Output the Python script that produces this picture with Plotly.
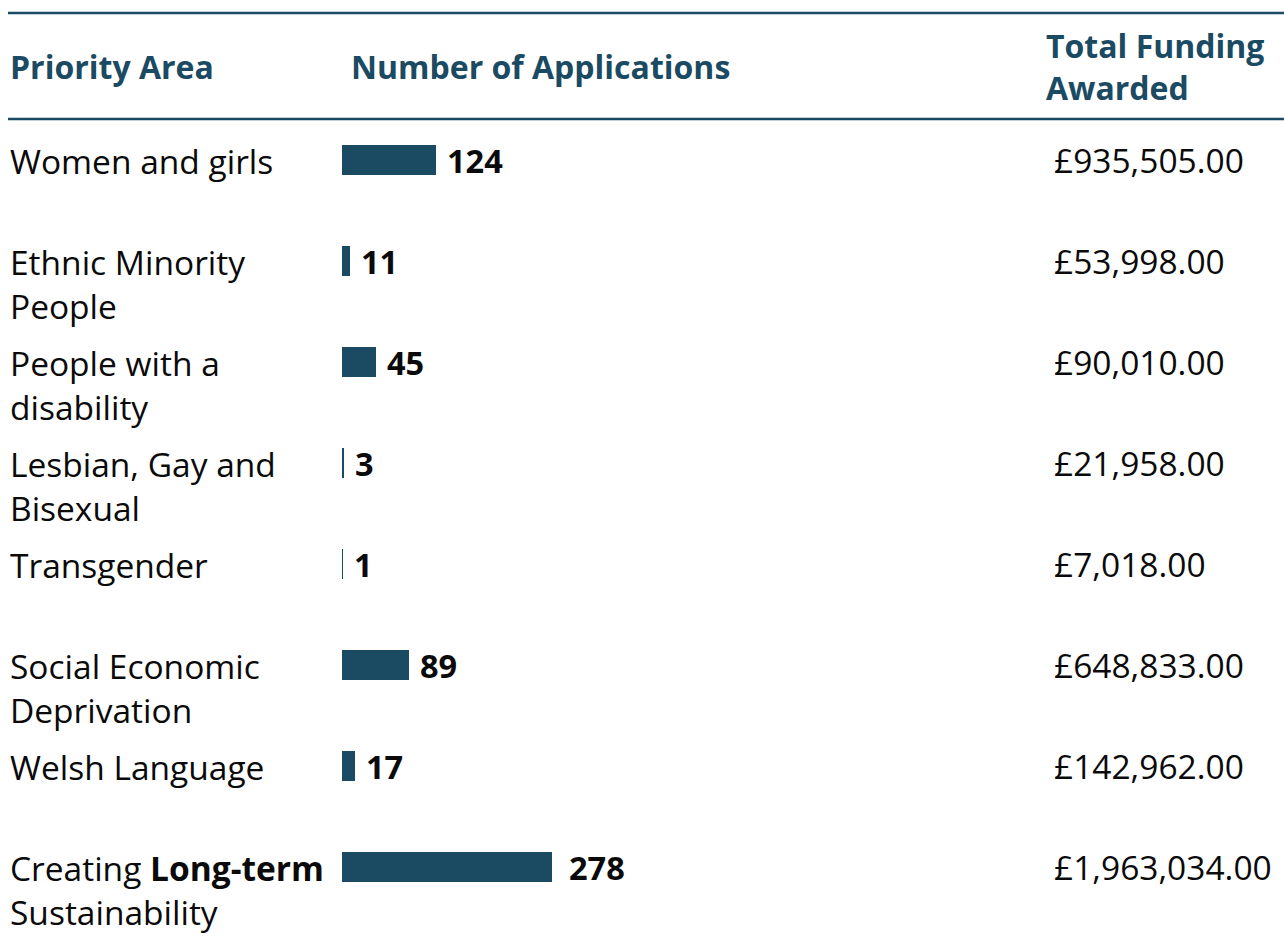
import plotly.graph_objects as go

categories = [
    "Women and girls",
    "Ethnic Minority<br>People",
    "People with a<br>disability",
    "Lesbian, Gay and<br>Bisexual",
    "Transgender",
    "Social Economic<br>Deprivation",
    "Welsh Language",
    "Creating <b>Long-term</b><br>Sustainability",
]
applications = [124, 11, 45, 3, 1, 89, 17, 278]
funding = [935505.00, 53998.00, 90010.00, 21958.00, 7018.00, 648833.00, 142962.00, 1963034.00]
headers = ["Priority Area", "Number of Applications", "Total Funding<br>Awarded"]

NAVY = "#1b4a63"
FONT = "Open Sans"
W, H = 1284, 950

# pixel mapping helpers (layout only)
bar_x0 = 342
px_per_unit = 0.757
row0_px, row_step = 160, 101
plot_top, plot_bot = 119, 950

fig = go.Figure()
fig.add_trace(go.Bar(
    x=applications, y=list(range(len(categories))), orientation="h",
    marker=dict(color=NAVY, line=dict(width=0)), width=0.3,
    hoverinfo="skip", showlegend=False,
))

ann = []
for i, (c, a, f) in enumerate(zip(categories, applications, funding)):
    ann.append(dict(x=8 / W, xref="paper", y=i, yref="y", text=c, showarrow=False,
                    xanchor="left", yanchor="top", yshift=24, align="left",
                    font=dict(family=FONT, size=33.5, color="#0a0a0a")))
    ann.append(dict(x=a, xref="x", y=i, yref="y", text=f"<b>{a}</b>", showarrow=False,
                    xanchor="left", yanchor="middle", xshift=9 + (6 if a > 200 else 0),
                    font=dict(family=FONT, size=32.5, color="#0a0a0a")))
    ann.append(dict(x=1052 / W, xref="paper", y=i, yref="y", text=f"£{f:,.2f}", showarrow=False,
                    xanchor="left", yanchor="middle",
                    font=dict(family=FONT, size=33.5, color="#0a0a0a")))

hx = [8, 349, 1044]
for t, x in zip(headers, hx):
    ann.append(dict(x=x / W, xref="paper", y=1 - 67 / H, yref="paper", text=f"<b>{t}</b>",
                    showarrow=False, xanchor="left", yanchor="middle", align="left",
                    font=dict(family=FONT, size=32, color=NAVY)))

shapes = []
for yp in [13, 119]:
    shapes.append(dict(type="line", xref="paper", yref="paper", x0=8 / W, x1=1,
                       y0=1 - yp / H, y1=1 - yp / H, line=dict(color=NAVY, width=2.5)))

y_lo = (plot_top - row0_px) / row_step
y_hi = (plot_bot - row0_px) / row_step
fig.update_layout(
    width=W, height=H, margin=dict(l=0, r=0, t=0, b=0),
    paper_bgcolor="white", plot_bgcolor="white",
    xaxis=dict(range=[-bar_x0 / px_per_unit, (W - bar_x0) / px_per_unit], visible=False),
    yaxis=dict(range=[y_hi, y_lo], domain=[0, 1 - plot_top / H], visible=False),
    annotations=ann, shapes=shapes, bargap=0,
)
fig.write_html("out.html", config={"displayModeBar": False},
               post_script="document.body.style.margin='0';document.body.style.overflow='hidden';")
